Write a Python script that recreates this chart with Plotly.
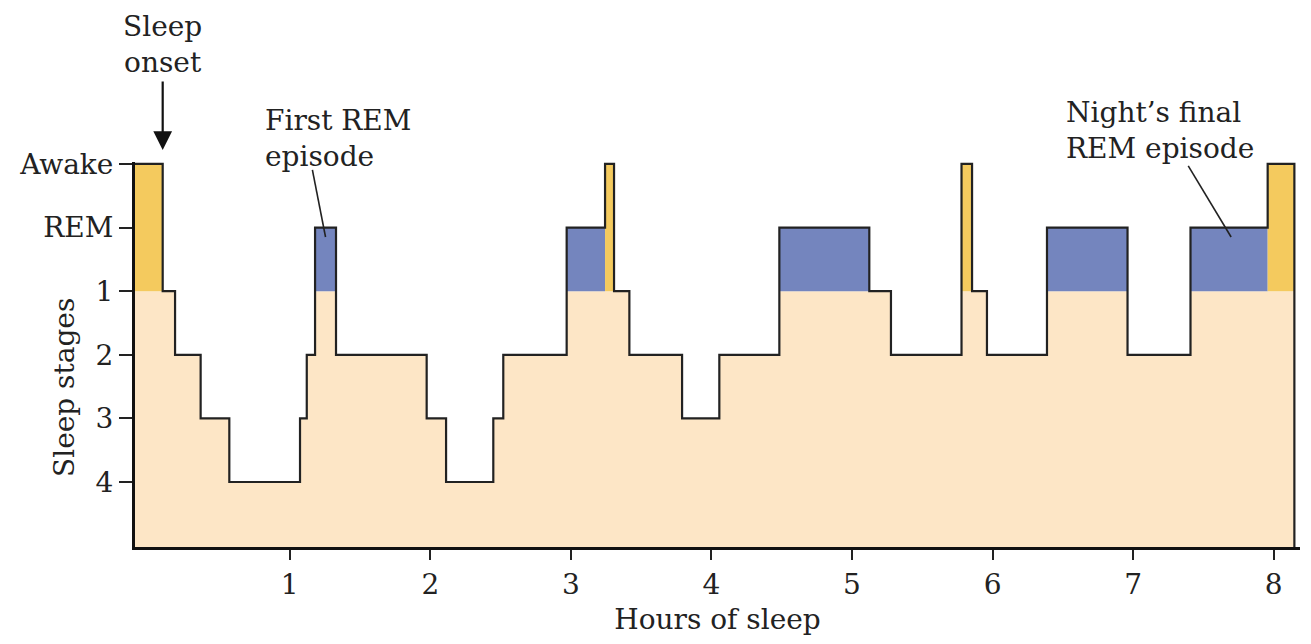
import plotly.graph_objects as go

# ---- data ----
stage_tick_labels = ["Awake", "REM", "1", "2", "3", "4"]
stage_levels = [5, 4, 3, 2, 1, 0]
hour_ticks = [1, 2, 3, 4, 5, 6, 7, 8]

stage_labels = ["Awake", "1", "2", "3", "4", "3", "2", "REM", "2", "3", "4", "3", "2",
                "REM", "Awake", "1", "2", "3", "2", "REM", "1", "2", "Awake", "1", "2",
                "REM", "2", "REM", "Awake"]
transition_hours = [-0.101, 0.096, 0.184, 0.366, 0.570, 1.073, 1.121, 1.180, 1.329,
                    1.974, 2.112, 2.448, 2.519, 2.970, 3.243, 3.307, 3.416, 3.791,
                    4.056, 4.483, 5.123, 5.277, 5.779, 5.854, 5.960, 6.387, 6.960,
                    7.408, 7.957, 8.147]

# ---- styling ----
PEACH = "#FDE6C6"
BLUE = "#7485BE"
YELLOW = "#F4CA5E"
INK = "#222222"
FONT = dict(family="DejaVu Serif", size=28, color=INK)
BOTTOM = -1.022
TOP = 5.031

level_of = dict(zip(stage_tick_labels, stage_levels))
lv = [level_of[s] for s in stage_labels]
lv_step = lv + [lv[-1]]
s1 = level_of["1"]
rem = level_of["REM"]
awake = level_of["Awake"]

peach_y = [min(v, s1) for v in lv_step]
blue_y = [rem if v == rem else s1 for v in lv_step]
yellow_y = [awake if v == awake else s1 for v in lv_step]
x = transition_hours

fig = go.Figure()
common = dict(x=x, mode="lines", line_shape="hv", hoverinfo="skip", showlegend=False)
fig.add_trace(go.Scatter(y=[BOTTOM] * len(x), line=dict(width=0), **common))
fig.add_trace(go.Scatter(y=peach_y, fill="tonexty", fillcolor=PEACH, line=dict(width=0), **common))
fig.add_trace(go.Scatter(y=[s1] * len(x), line=dict(width=0), **common))
fig.add_trace(go.Scatter(y=blue_y, fill="tonexty", fillcolor=BLUE, line=dict(width=0), **common))
fig.add_trace(go.Scatter(y=[s1] * len(x), line=dict(width=0), **common))
fig.add_trace(go.Scatter(y=yellow_y, fill="tonexty", fillcolor=YELLOW, line=dict(width=0), **common))
# outline of the hypnogram, closing down to the axis at the end
fig.add_trace(go.Scatter(x=x + [x[-1]], y=lv_step + [BOTTOM], mode="lines", line_shape="hv",
                         line=dict(color=INK, width=2.2), hoverinfo="skip", showlegend=False))

onset = transition_hours[1]
first_rem_mid = (transition_hours[7] + transition_hours[8]) / 2

fig.update_layout(
    width=1295, height=628, autosize=False,
    margin=dict(l=127, r=3, t=154, b=89),
    paper_bgcolor="white", plot_bgcolor="white",
    font=FONT,
    xaxis=dict(range=[transition_hours[0], 8.187], tickvals=hour_ticks, ticks="outside",
               ticklen=10, tickwidth=2, tickcolor=INK, showline=True, linewidth=3,
               linecolor="#111111", showgrid=False, zeroline=False, tickfont=FONT,
               title=dict(text="Hours of sleep", font=FONT, standoff=14)),
    yaxis=dict(range=[BOTTOM, TOP], tickvals=stage_levels, ticktext=stage_tick_labels,
               ticks="outside", ticklen=13, tickwidth=2, tickcolor=INK, showline=True,
               linewidth=3, linecolor="#111111", showgrid=False, zeroline=False,
               tickfont=FONT),
    annotations=[
        dict(text="Sleep stages", textangle=-90, xref="paper", yref="paper",
             x=-0.0601, y=0.4156, showarrow=False, font=FONT,
             xanchor="center", yanchor="middle"),
        dict(text="Sleep<br>onset", xref="x", yref="paper", x=onset, y=1.304,
             showarrow=False, font=FONT, xanchor="center", yanchor="middle"),
        dict(text="", xref="x", yref="paper", x=onset, y=1.0312,
             ax=0, ay=-70, showarrow=True, arrowhead=2, arrowsize=1.7,
             arrowwidth=2.2, arrowcolor="#111111", standoff=0, startstandoff=0,
             font=dict(size=1)),
        dict(text="First REM<br>episode", xref="x", yref="paper", x=0.81, y=1.062,
             showarrow=False, font=FONT, xanchor="left", yanchor="middle", align="left"),
        dict(text="Night\u2019s final<br>REM episode", xref="x", yref="paper", x=6.51,
             y=1.083, showarrow=False, font=FONT, xanchor="left", yanchor="middle",
             align="left"),
    ],
    shapes=[
        dict(type="line", xref="x", yref="y", x0=1.161, y0=4.906, x1=first_rem_mid, y1=3.852,
             line=dict(color=INK, width=1.6)),
        dict(type="line", xref="x", yref="y", x0=7.392, y0=4.969, x1=7.697, y1=3.852,
             line=dict(color=INK, width=1.6)),
    ],
)

fig.write_html("out.html")
